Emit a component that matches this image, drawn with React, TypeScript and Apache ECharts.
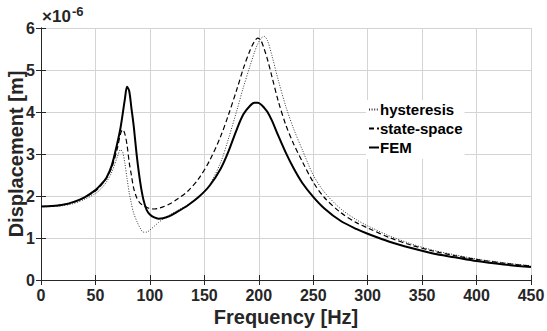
import React, { useEffect, useRef } from "react";
import * as echarts from "echarts";

const freqs = [0,10,20,30,40,50,55,60,65,70,73,75,77,79,81,83,85,88,91,94,97,100,104,108,112,118,125,135,145,155,165,172,180,186,192,196,199,202,205,208,212,218,225,232,240,250,260,275,290,300,320,340,360,380,400,425,450];

const hysteresis = [1.74,1.75,1.77,1.82,1.92, 2.06,2.17,2.33,2.57,2.92, 3.1,3.05,2.78,2.42,2.08, 1.82,1.6,1.4,1.24,1.14, 1.14,1.19,1.28,1.37,1.45, 1.55,1.65,1.8,1.98,2.28, 2.8,3.35,4.05,4.6,5.1, 5.42,5.62,5.75,5.8,5.7, 5.35,4.75,4.12,3.6,3.1, 2.5,2.1,1.7,1.43,1.29, 1.05,0.86,0.71,0.6,0.5, 0.41,0.34];

const stateSpace = [1.75,1.76,1.79,1.85,1.96, 2.12,2.25,2.42,2.68,3.12, 3.48,3.58,3.48,3.22,2.8, 2.5,2.2,1.95,1.83,1.77, 1.73,1.7,1.69,1.71,1.74, 1.81,1.92,2.12,2.42,2.85, 3.42,3.92,4.55,5.05,5.47, 5.68,5.76,5.7,5.5,5.25, 4.85,4.25,3.68,3.24,2.82, 2.33,1.97,1.61,1.36,1.24, 1.01,0.83,0.69,0.58,0.49, 0.4,0.33];

const fem = [1.75,1.76,1.79,1.86,1.97, 2.14,2.27,2.43,2.73,3.25, 3.62,3.95,4.3,4.6,4.5, 4.1,3.7,2.95,2.35,1.92, 1.67,1.56,1.49,1.46,1.47, 1.52,1.62,1.78,1.98,2.25, 2.65,3.05,3.6,3.95,4.15, 4.22,4.22,4.18,4.1,4.0, 3.8,3.43,3.02,2.66,2.31, 1.98,1.71,1.41,1.21,1.1, 0.91,0.76,0.63,0.54,0.45, 0.37,0.31];

const seriesNames = ["hysteresis", "state-space", "FEM"];
const xName = "Frequency [Hz]";
const yName = "Displacement [m]";

const FONT = "'Liberation Sans', Arial, sans-serif";

export default function App() {
  const ref = useRef<HTMLDivElement>(null);
  useEffect(() => {
    if (!ref.current) return;
    const chart = echarts.init(ref.current, null, { renderer: "svg" });
    const pair = (arr: number[]) => freqs.map((f, i) => [f, arr[i]]);
    const axisLine = { show: true, lineStyle: { color: "#262626", width: 1 } };
    const tick = { show: true, inside: true, length: 5, lineStyle: { color: "#262626" } };
    chart.setOption({
      animation: false,
      backgroundColor: "#fff",
      textStyle: { fontFamily: FONT },
      grid: { left: 41, right: 16, top: 28, bottom: 51, containLabel: false, outerBoundsMode: "none" },
      legend: {
        orient: "vertical",
        left: 366,
        top: 100,
        backgroundColor: "#fff",
        padding: [2, 2, 4, 2],
        itemWidth: 10,
        itemHeight: 10,
        itemGap: 4,
        data: seriesNames,
        itemStyle: { opacity: 0 },
        textStyle: { fontFamily: FONT, fontSize: 15, fontWeight: "bold", color: "#000", padding: [0, 0, 0, -4] },
      },
      graphic: [
        { type: "text", left: 42, top: 8, style: { text: "×10", font: `bold 17px ${FONT}`, fill: "#262626" }, z: 10 },
        { type: "text", left: 72, top: 5, style: { text: "-6", font: `bold 13px ${FONT}`, fill: "#262626" }, z: 10 },
      ],
      xAxis: [
        {
          type: "value", min: 0, max: 450, interval: 50,
          name: xName, nameLocation: "middle", nameGap: 27, nameMoveOverlap: false,
          nameTextStyle: { fontFamily: FONT, fontSize: 20, fontWeight: "bold", color: "#262626" },
          axisLine, axisTick: tick,
          axisLabel: { fontFamily: FONT, fontSize: 16, fontWeight: "bold", color: "#262626", margin: 7 },
          splitLine: { show: true, lineStyle: { color: "#d4d4d4", width: 1 } },
        },
        {
          type: "value", min: 0, max: 450, interval: 50, position: "top",
          axisLine, axisTick: tick,
          axisLabel: { show: false }, splitLine: { show: false },
        },
      ],
      yAxis: [
        {
          type: "value", min: 0, max: 6, interval: 1,
          name: yName, nameLocation: "middle", nameGap: 15, nameMoveOverlap: false,
          nameTextStyle: { fontFamily: FONT, fontSize: 20, fontWeight: "bold", color: "#262626" },
          axisLine, axisTick: tick,
          axisLabel: { fontFamily: FONT, fontSize: 16, fontWeight: "bold", color: "#262626", margin: 6 },
          splitLine: { show: true, lineStyle: { color: "#d4d4d4", width: 1 } },
        },
        {
          type: "value", min: 0, max: 6, interval: 1, position: "right",
          axisLine, axisTick: tick,
          axisLabel: { show: false }, splitLine: { show: false },
        },
      ],
      series: [
        {
          name: seriesNames[0], type: "line", data: pair(hysteresis), symbol: "none",
          smooth: 0.3,
          lineStyle: { color: "#333", width: 1, type: [1, 1.6] }, itemStyle: { color: "#333" }, z: 3,
        },
        {
          name: seriesNames[1], type: "line", data: pair(stateSpace), symbol: "none",
          smooth: 0.3,
          lineStyle: { color: "#000", width: 1.2, type: [5, 3] }, itemStyle: { color: "#000" }, z: 4,
        },
        {
          name: seriesNames[2], type: "line", data: pair(fem), symbol: "none",
          smooth: 0.3,
          lineStyle: { color: "#000", width: 2 }, itemStyle: { color: "#000" }, z: 5,
        },
      ],
    });
    return () => chart.dispose();
  }, []);
  return <div ref={ref} style={{ position: "fixed", left: 0, top: 0, width: 547, height: 331 }} />;
}
